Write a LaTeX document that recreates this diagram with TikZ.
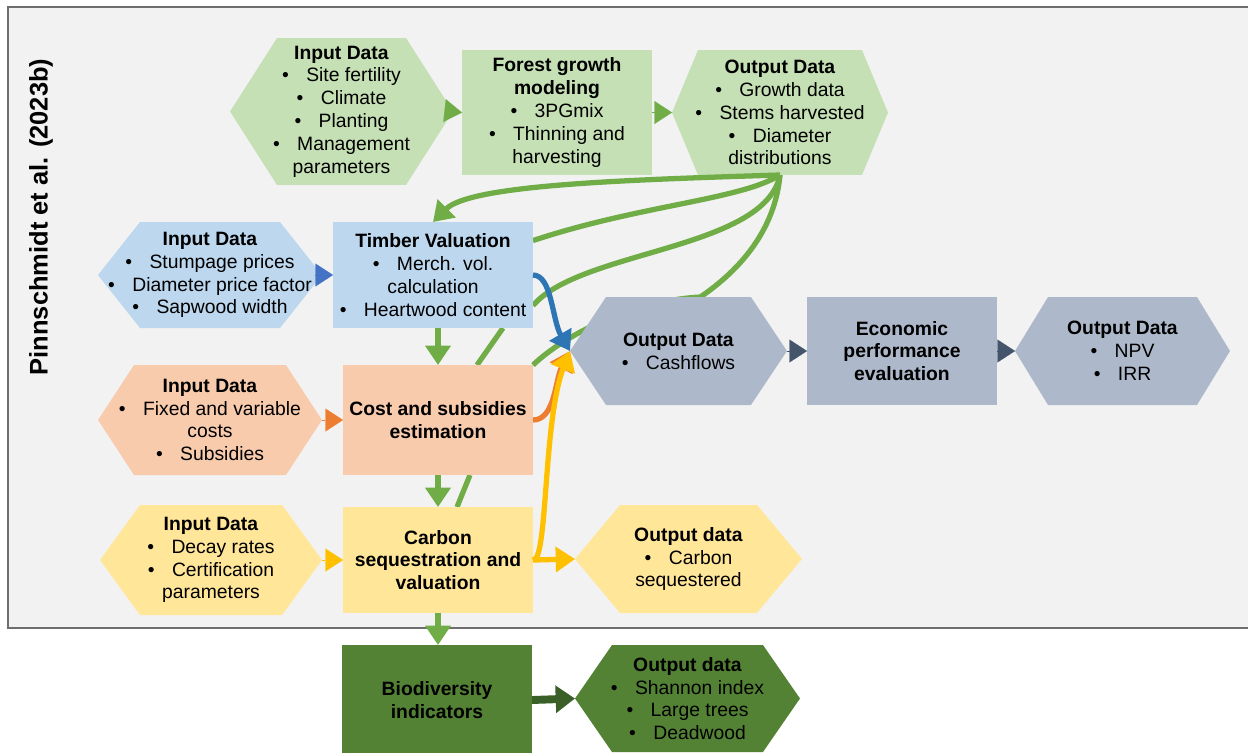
\documentclass[tikz,border=0pt]{standalone}
\usepackage{fontspec}
\setmainfont{Liberation Sans}
\usetikzlibrary{arrows.meta}

\definecolor{panelgray}{HTML}{F2F2F2}
\definecolor{panelline}{HTML}{6E6E6E}
\definecolor{lgreen}{HTML}{C5E0B4}
\definecolor{lblue}{HTML}{BDD7EE}
\definecolor{lorange}{HTML}{F8CBAD}
\definecolor{lyellow}{HTML}{FFE699}
\definecolor{lslate}{HTML}{ADB9CA}
\definecolor{dgreen}{HTML}{548235}
\definecolor{agreen}{HTML}{70AD47}
\definecolor{ablue}{HTML}{2E75B6}
\definecolor{tblue}{HTML}{4472C4}
\definecolor{aorange}{HTML}{ED7D31}
\definecolor{ayellow}{HTML}{FFC000}
\definecolor{aslate}{HTML}{44546A}
\definecolor{adgreen}{HTML}{3A5F27}

\pgfdeclarelayer{background}
\pgfsetlayers{background,main}

\newcommand{\itm}{\textbullet\hspace{0.9em}}

\tikzset{
  txt/.style={align=center, inner sep=0pt, outer sep=0pt, font=\fontsize{11}{13}\selectfont},
  box/.style={txt, rectangle, fill=#1},
  hexa/.style n args={4}{txt, rectangle, minimum width=#1, minimum height=#2,
    path picture={\fill[#4] (path picture bounding box.west)
      -- ([xshift=#3]path picture bounding box.north west)
      -- ([xshift=-#3]path picture bounding box.north east)
      -- (path picture bounding box.east)
      -- ([xshift=-#3]path picture bounding box.south east)
      -- ([xshift=#3]path picture bounding box.south west) -- cycle;}},
  flow/.style={draw=#1, line width=3pt, -{Triangle[length=11pt,width=14pt]}},
  link/.style={draw=#1, line width=3pt},
  tip/.style={draw=#1, line width=0.1pt, -{Triangle[length=10pt,width=13pt]}},
  bigflow/.style={draw=#1, line width=4.5pt, -{Triangle[length=11pt,width=15pt]}},
}

\begin{document}
\begin{tikzpicture}[x=0.02cm, y=-0.02cm]
\useasboundingbox (0,0) rectangle (1248,752);

\node[rotate=90, font=\bfseries\fontsize{14.5}{17}\selectfont] (title) at (41,217) {Pinnschmidt et al. (2023b)};

% growth row
\node[hexa={4.46cm}{2.94cm}{0.94cm}{lgreen}] (gin) at (341.5,111.5)
  {\textbf{Input Data}\\\itm Site fertility\\\itm Climate\\\itm Planting\\\itm Management\\parameters};
\node[box=lgreen, minimum width=3.8cm, minimum height=2.5cm] (grow) at (557,112.5)
  {\textbf{Forest growth}\\\textbf{modeling}\\\itm 3PGmix\\\itm Thinning and\\harvesting};
\node[hexa={4.32cm}{2.5cm}{0.52cm}{lgreen}] (gout) at (780,112.5)
  {\textbf{Output Data}\\\itm Growth data\\\itm Stems harvested\\\itm Diameter\\distributions};

% timber row
\node[hexa={4.48cm}{2.12cm}{0.84cm}{lblue}] (tin) at (210,275)
  {\textbf{Input Data}\\\itm Stumpage prices\\\itm Diameter price factor\\\itm Sapwood width};
\node[box=lblue, minimum width=4cm, minimum height=2.12cm] (timber) at (433,275)
  {\textbf{Timber Valuation}\\\itm Merch. vol.\\calculation\\\itm Heartwood content};

% cost row
\node[hexa={4.48cm}{2.2cm}{0.72cm}{lorange}] (cin) at (210,420)
  {\textbf{Input Data}\\\itm Fixed and variable\\costs\\\itm Subsidies};
\node[box=lorange, minimum width=3.8cm, minimum height=2.2cm] (cost) at (438,420)
  {\textbf{Cost and subsidies}\\\textbf{estimation}};

% carbon row
\node[hexa={4.44cm}{2.2cm}{0.8cm}{lyellow}] (kin) at (211,560)
  {\textbf{Input Data}\\\itm Decay rates\\\itm Certification\\parameters};
\node[box=lyellow, minimum width=3.8cm, minimum height=2.12cm] (carbon) at (438,560)
  {\textbf{Carbon}\\\textbf{sequestration and}\\\textbf{valuation}};
\node[hexa={4.54cm}{2.16cm}{0.9cm}{lyellow}] (kout) at (688.5,559)
  {\textbf{Output data}\\\itm Carbon\\sequestered};

% economic row
\node[hexa={4.34cm}{2.16cm}{0.72cm}{lslate}] (cf) at (678.5,351)
  {\textbf{Output Data}\\\itm Cashflows};
\node[box=lslate, minimum width=3.8cm, minimum height=2.16cm] (econ) at (902,351)
  {\textbf{Economic}\\\textbf{performance}\\\textbf{evaluation}};
\node[hexa={4.3cm}{2.16cm}{0.66cm}{lslate}] (npv) at (1122.5,351)
  {\textbf{Output Data}\\\itm NPV\\\itm IRR};

% biodiversity row
\node[box=dgreen, minimum width=3.8cm, minimum height=2.2cm] (bio) at (437,700)
  {\textbf{Biodiversity}\\\textbf{indicators}};
\node[hexa={4.5cm}{2.14cm}{0.74cm}{dgreen}] (bout) at (687.5,698.5)
  {\textbf{Output data}\\\itm Shannon index\\\itm Large trees\\\itm Deadwood};

\begin{pgfonlayer}{background}
  \fill[white] (0,0) rectangle (1248,752);
  \fill[panelgray, draw=panelline, line width=1pt] (8,7) rectangle (1262,628);
  \draw[link=agreen] (gout.south) .. controls (740,200) and (640,205) .. (timber.19);
  \draw[link=agreen] (gout.south) .. controls (765,250) and (580,250) .. (timber.343);
  \draw[link=agreen] (gout.south) .. controls (775,230) and (740,270) .. (cf.68)
    .. controls (640,300) and (570,330) .. (cost.north east);
  \draw[link=agreen] ([xshift=1.4cm]timber.south) -- ([xshift=0.78cm]cost.north);
  \draw[link=agreen] ([xshift=0.64cm]cost.south) -- ([xshift=0.38cm]carbon.north);
\end{pgfonlayer}

% short tips between neighbours
\draw[tip=agreen] (gin.east) -- (grow.west);
\draw[tip=agreen] (grow.east) -- (gout.west);
\draw[tip=tblue] (tin.east) -- (timber.west);
\draw[tip=aorange] (cin.east) -- (cost.west);
\draw[tip=ayellow] (kin.east) -- (carbon.west);
\draw[tip=aslate] (cf.east) -- (econ.west);
\draw[tip=aslate] (econ.east) -- (npv.west);

% flows
\draw[flow=agreen] (gout.south) .. controls (620,180) and (470,185) .. (timber.north);
\draw[flow=agreen] (timber.south -| cost.north) -- (cost.north);
\draw[flow=agreen] (cost.south) -- (carbon.north);
\draw[flow=agreen] (carbon.south) -- (carbon.south |- bio.north);
\draw[flow=ablue] (timber.east) .. controls (552,275) and (552,320) .. (cf.west);
\draw[flow=aorange] (cost.east) .. controls (555,420) and (555,380) .. (cf.west);
\draw[flow=ayellow] (carbon.east) .. controls (548,562) and (543,420) .. (cf.west);
\draw[flow=ayellow] (carbon.east) -- (kout.west);
\draw[bigflow=adgreen] (bio.east) -- (bout.west);
\end{tikzpicture}
\end{document}
